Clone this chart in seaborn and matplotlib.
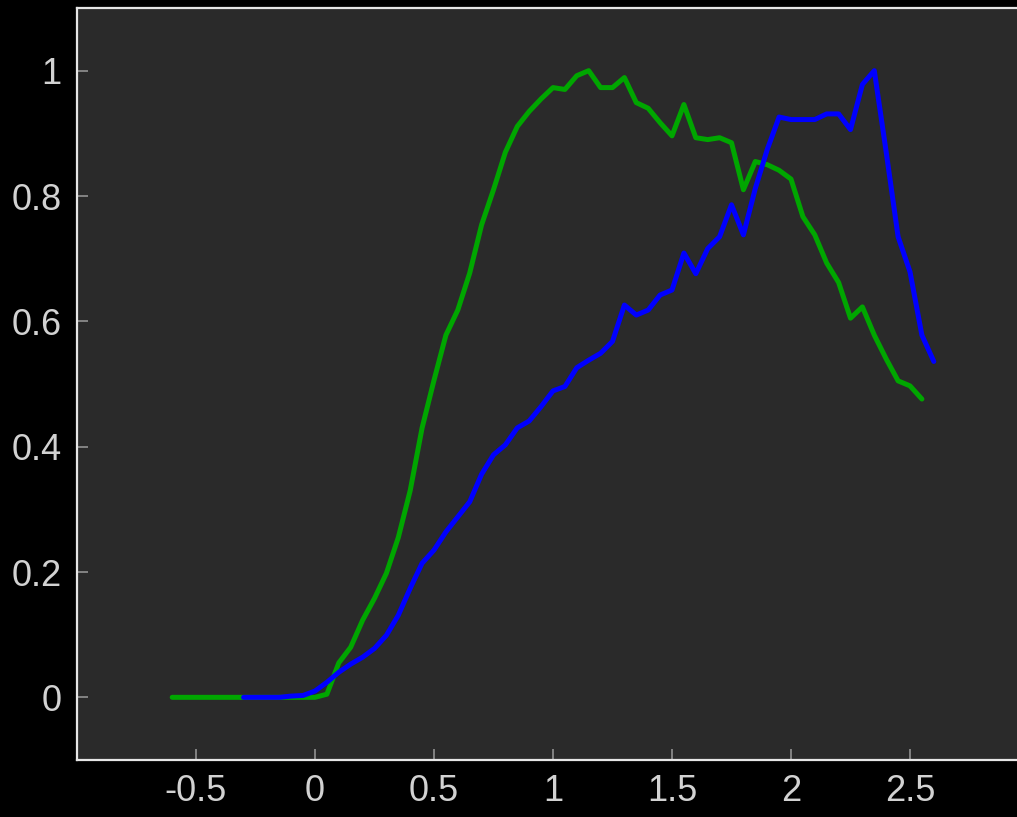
import numpy as np
import pandas as pd
import seaborn as sns
import matplotlib.pyplot as plt

# x positions (step 0.05)
x_green = np.round(np.arange(-0.6, 2.5501, 0.05), 2)
x_blue = np.round(np.arange(-0.3, 2.6001, 0.05), 2)

# green curve
y_green = [0, 0, 0, 0, 0, 0, 0, 0, 0, 0, 0, 0,          # -0.6 .. -0.05
           0.0, 0.005, 0.055, 0.08, 0.123, 0.158, 0.198, 0.255, 0.33, 0.43,
           0.506, 0.578, 0.618, 0.677, 0.754, 0.81, 0.87, 0.911, 0.935, 0.955,
           0.973, 0.97, 0.992, 1.0, 0.973, 0.973, 0.989, 0.949, 0.94, 0.917,
           0.896, 0.946, 0.893, 0.89, 0.893, 0.885, 0.81, 0.855, 0.85, 0.841,
           0.827, 0.767, 0.738, 0.693, 0.662, 0.605, 0.623, 0.578, 0.54, 0.505,
           0.497, 0.476]

# blue curve
y_blue = [0, 0, 0, 0, 0.002,                               # -0.3 .. -0.1
          0.003, 0.01, 0.024, 0.04, 0.053, 0.064, 0.078, 0.099, 0.131, 0.174,
          0.214, 0.235, 0.264, 0.288, 0.312, 0.356, 0.387, 0.403, 0.43, 0.441,
          0.464, 0.489, 0.496, 0.526, 0.538, 0.549, 0.568, 0.626, 0.61, 0.618,
          0.642, 0.65, 0.709, 0.676, 0.716, 0.735, 0.786, 0.738, 0.812, 0.874,
          0.926, 0.922, 0.922, 0.922, 0.931, 0.931, 0.906, 0.978, 1.0, 0.87,
          0.735, 0.679, 0.578, 0.536]

df = pd.concat([
    pd.DataFrame({'x': x_green, 'y': y_green, 'serie': 'green'}),
    pd.DataFrame({'x': x_blue, 'y': y_blue, 'serie': 'blue'}),
])

sns.set_style('dark')
plt.rcParams['font.family'] = ['Liberation Sans', 'DejaVu Sans']

fig = plt.figure(figsize=(10.17, 8.17), dpi=100, facecolor='black')
ax = fig.add_axes([77 / 1017, 57 / 817, 952 / 1017, 752 / 817])
ax.set_facecolor('#2a2a2a')

sns.lineplot(data=df, x='x', y='y', hue='serie', palette={'green': '#00a600', 'blue': '#0000ff'},
             linewidth=3.6, legend=False, ax=ax, sort=False)

ax.set_xlim(-1.0, 3.0)
ax.set_ylim(-0.1, 1.1)
ax.set_xticks([-0.5, 0, 0.5, 1, 1.5, 2, 2.5])
ax.set_xticklabels(['-0.5', '0', '0.5', '1', '1.5', '2', '2.5'])
ax.set_yticks([0, 0.2, 0.4, 0.6, 0.8, 1])
ax.set_yticklabels(['0', '0.2', '0.4', '0.6', '0.8', '1'])
ax.set_xlabel('')
ax.set_ylabel('')
ax.grid(False)

ax.tick_params(bottom=True, left=True, top=False, right=False,
               direction='in', length=8, width=1.3, color='#8a8a8a',
               labelcolor='#d2d2d2', labelsize=26, pad=10)
ax.tick_params(axis='y', pad=11)
for side in ['left', 'bottom', 'top']:
    ax.spines[side].set_color('#e6e6e6')
    ax.spines[side].set_linewidth(1.6)
    ax.spines[side].set_visible(True)
ax.spines['right'].set_visible(False)

plt.savefig('out.png', dpi=100, facecolor='black')
